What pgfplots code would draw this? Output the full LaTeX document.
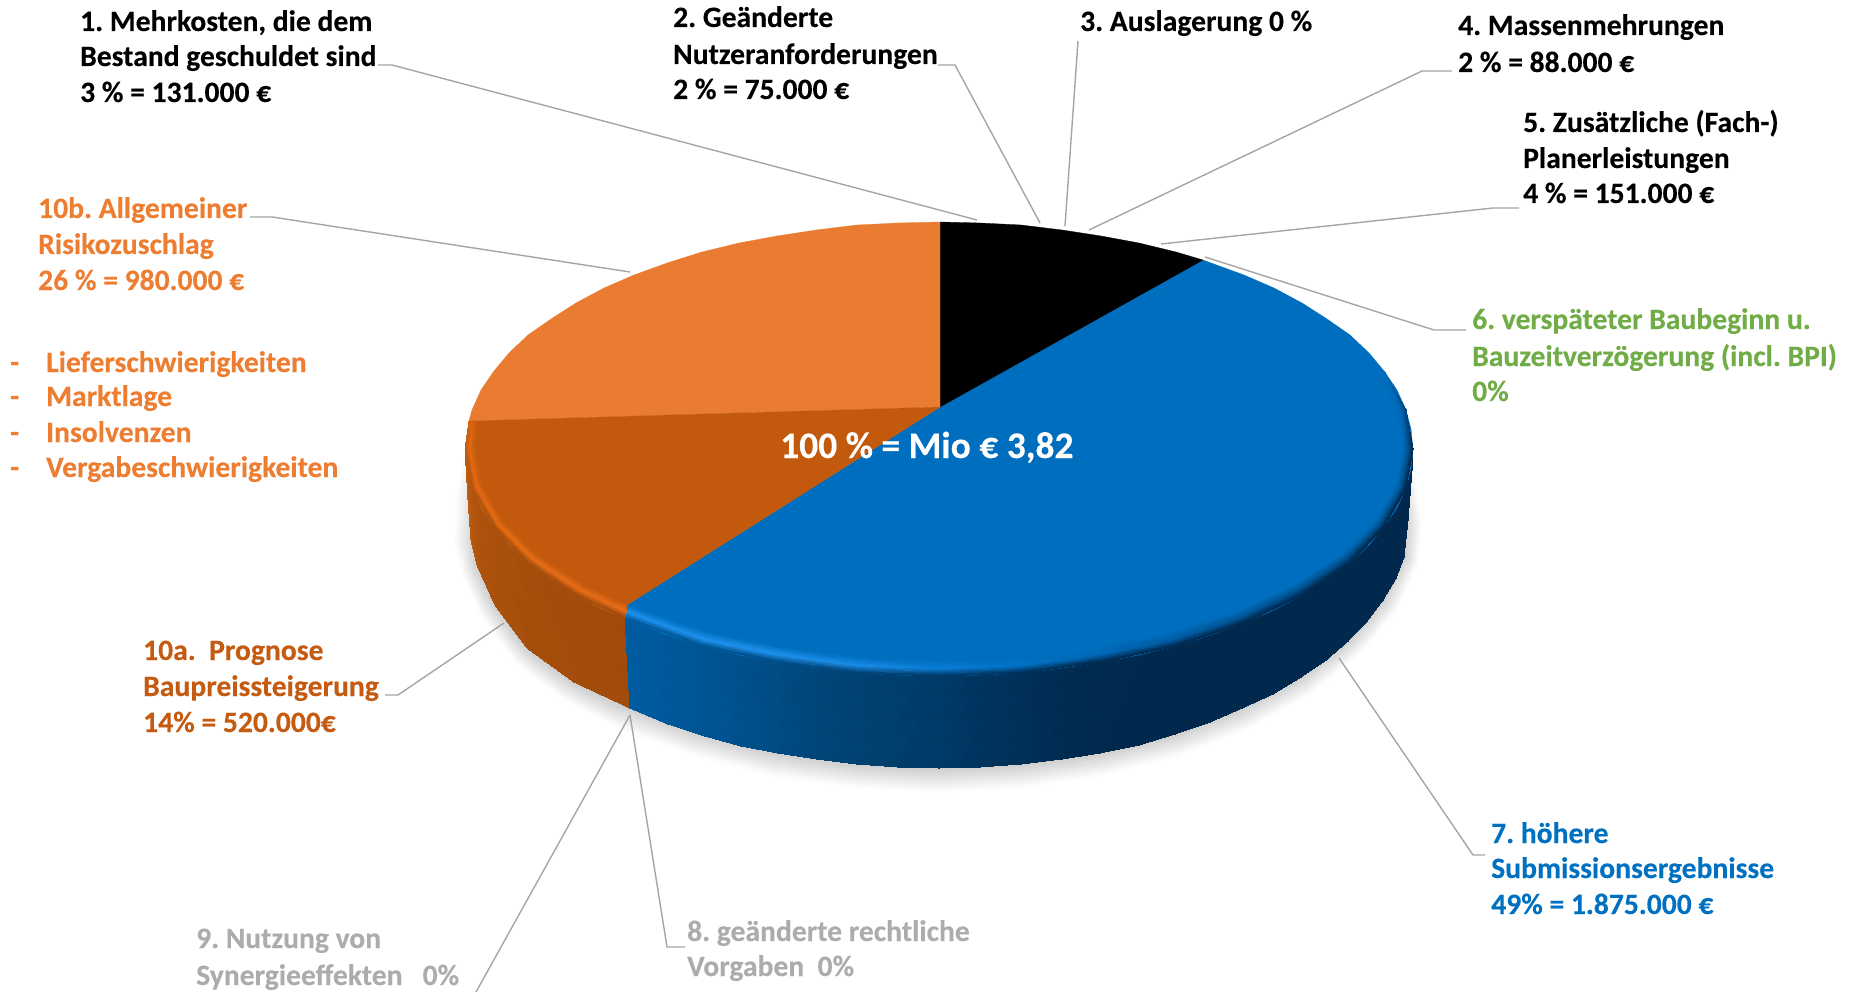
\documentclass[border=0pt]{standalone}
\usepackage{fontspec}
\setmainfont[BoldFeatures={FakeBold=0.25}]{Carlito}
\usepackage{pgfplots}
\pgfplotsset{compat=1.18}
\definecolor{cOr}{RGB}{233,124,48}
\definecolor{cDo}{RGB}{195,89,13}
\definecolor{cBl}{RGB}{0,110,190}
\definecolor{tOr}{RGB}{237,125,49}
\definecolor{tDo}{RGB}{197,90,17}
\definecolor{tBl}{RGB}{0,112,192}
\definecolor{tGr}{RGB}{112,173,71}
\definecolor{tGy}{RGB}{174,171,171}
\definecolor{lead}{RGB}{165,165,165}
\newcommand{\lab}[4]{\node[anchor=base west,inner sep=0pt,text=#3,font=\fontsize{29.6}{35}\selectfont\bfseries\frenchspacing] at (axis cs:#1,#2) {#4};}
\begin{document}
\begin{tikzpicture}
\begin{axis}[
  scale only axis,width=1851pt,height=992pt,
  xmin=0,xmax=1851,ymin=0,ymax=992,y dir=reverse,
  hide axis,no markers,clip=true]
\path (axis cs:0,0) rectangle (axis cs:1851,992);
% soft shadow
\addplot[surf,shader=interp,mesh/color input=explicit,mesh/cols=22] table[meta=c]{
x y c
1412 470 rgb255=255,255,255
1408 520 rgb255=215,215,215
1404 557 rgb255=205,205,205
1383 600 rgb255=205,205,205
1348 641 rgb255=205,205,205
1301 677 rgb255=205,205,205
1242 708 rgb255=205,205,205
1175 734 rgb255=205,205,205
1100 753 rgb255=205,205,205
1021 764 rgb255=205,205,205
939 768 rgb255=205,205,205
857 764 rgb255=205,205,205
778 753 rgb255=205,205,205
703 734 rgb255=205,205,205
630 708 rgb255=205,205,205
574 682 rgb255=205,205,205
527 648 rgb255=205,205,205
495 605 rgb255=205,205,205
477 565 rgb255=205,205,205
471 540 rgb255=215,215,215
468 500 rgb255=230,230,230
465 449 rgb255=255,255,255
1414 470 rgb255=255,255,255
1422 525 rgb255=255,255,255
1418 565 rgb255=255,255,255
1397 611 rgb255=255,255,255
1360 655 rgb255=255,255,255
1310 695 rgb255=255,255,255
1249 729 rgb255=255,255,255
1180 756 rgb255=255,255,255
1103 776 rgb255=255,255,255
1022 788 rgb255=255,255,255
939 793 rgb255=255,255,255
856 788 rgb255=255,255,255
775 777 rgb255=255,255,255
697 757 rgb255=255,255,255
621 730 rgb255=255,255,255
563 700 rgb255=255,255,255
515 663 rgb255=255,255,255
481 617 rgb255=255,255,255
461 572 rgb255=255,255,255
454 540 rgb255=255,255,255
456 495 rgb255=255,255,255
463 449 rgb255=255,255,255
};
% orange side
\addplot[surf,shader=interp,mesh/color input=explicit,mesh/cols=7] table[meta=c]{
x y c
625 618 rgb255=160,74,12
576 595 rgb255=163,76,12
528 563 rgb255=165,78,12
494 527 rgb255=170,80,13
472 488 rgb255=176,84,14
467 469 rgb255=185,90,15
465 449 rgb255=190,92,15
630 708 rgb255=160,74,12
574 682 rgb255=163,76,12
527 648 rgb255=165,78,12
495 605 rgb255=170,80,13
477 565 rgb255=176,84,14
471 540 rgb255=185,90,15
468 500 rgb255=190,92,15
};
% blue side
\addplot[surf,shader=interp,mesh/color input=explicit,mesh/cols=27] table[meta=c]{
x y c
625 618 rgb255=0,92,160
667 635 rgb255=0,88,154
702 646 rgb255=0,85,148
739 655 rgb255=0,80,140
777 662 rgb255=0,76,133
817 668 rgb255=0,70,122
857 673 rgb255=0,66,115
898 675 rgb255=0,62,108
939 676 rgb255=0,58,104
980 675 rgb255=0,52,95
1021 673 rgb255=0,48,88
1062 668 rgb255=0,44,82
1101 662 rgb255=0,42,78
1139 655 rgb255=0,41,77
1176 646 rgb255=0,41,77
1211 635 rgb255=0,41,77
1244 623 rgb255=0,41,77
1274 610 rgb255=0,41,77
1302 595 rgb255=0,41,77
1327 579 rgb255=0,41,77
1350 563 rgb255=0,41,77
1369 545 rgb255=0,41,77
1384 527 rgb255=0,41,77
1397 508 rgb255=0,41,77
1406 488 rgb255=0,41,77
1411 469 rgb255=0,41,77
1413 449 rgb255=0,41,77
630 708 rgb255=0,92,160
668 724 rgb255=0,88,154
705 736 rgb255=0,85,148
741 746 rgb255=0,80,140
778 753 rgb255=0,76,133
817 759 rgb255=0,70,122
857 764 rgb255=0,66,115
898 767 rgb255=0,62,108
939 768 rgb255=0,58,104
980 767 rgb255=0,52,95
1021 764 rgb255=0,48,88
1062 759 rgb255=0,44,82
1100 753 rgb255=0,42,78
1139 745 rgb255=0,41,77
1175 734 rgb255=0,41,77
1210 722 rgb255=0,41,77
1242 708 rgb255=0,41,77
1273 694 rgb255=0,41,77
1301 677 rgb255=0,41,77
1326 660 rgb255=0,41,77
1348 641 rgb255=0,41,77
1367 621 rgb255=0,41,77
1383 600 rgb255=0,41,77
1396 578 rgb255=0,41,77
1404 557 rgb255=0,41,77
1408 520 rgb255=0,41,77
1412 470 rgb255=0,41,77
};
% top surface
\addplot[fill=cBl,draw=cBl,line width=.3pt] coordinates {(940,407)(1203,260)(1211,263)(1244,275)(1274,288)(1302,303)(1327,319)(1350,335)(1369,353)(1384,371)(1397,390)(1406,410)(1411,429)(1413,449)(1411,469)(1406,488)(1397,508)(1384,527)(1369,545)(1350,563)(1327,579)(1302,595)(1274,610)(1244,623)(1211,635)(1176,646)(1139,655)(1101,662)(1062,668)(1021,673)(980,675)(939,676)(898,675)(857,673)(817,668)(777,662)(739,655)(702,646)(667,635)(625,618)(627,605)} -- cycle;
\addplot[fill=black,draw=black,line width=.3pt] coordinates {(940,407)(940,222)(980,223)(1021,225)(1062,230)(1101,236)(1139,243)(1176,252)(1203,260)} -- cycle;
\addplot[fill=cOr,draw=cOr,line width=.3pt] coordinates {(940,407)(940,222)(898,223)(857,225)(816,230)(777,236)(739,243)(702,252)(667,263)(634,275)(604,288)(576,303)(551,319)(528,335)(509,353)(494,371)(481,390)(472,410)(469,421)} -- cycle;
\addplot[fill=cDo,draw=cDo,line width=.3pt] coordinates {(940,407)(469,421)(465,449)(467,469)(472,488)(481,508)(494,527)(509,545)(528,563)(551,579)(576,595)(604,610)(625,618)(627,605)} -- cycle;
% front bevel, blue
\addplot[surf,shader=interp,mesh/color input=explicit,mesh/cols=16] table[meta=c]{
x y c
1375 377 rgb255=0,110,190
1396 413 rgb255=0,110,190
1403 449 rgb255=0,110,190
1396 485 rgb255=0,110,190
1375 521 rgb255=0,110,190
1341 555 rgb255=0,110,190
1294 585 rgb255=0,110,190
1238 611 rgb255=0,110,190
1171 632 rgb255=0,110,190
1098 647 rgb255=0,110,190
1019 657 rgb255=0,110,190
939 660 rgb255=0,110,190
859 657 rgb255=0,110,190
780 647 rgb255=0,110,190
707 632 rgb255=0,110,190
627 605 rgb255=0,110,190
1380 373 rgb255=0,110,190
1402 411 rgb255=0,100,178
1409 449 rgb255=0,82,145
1402 487 rgb255=0,82,145
1380 525 rgb255=0,82,145
1346 559 rgb255=0,82,145
1299 590 rgb255=0,82,145
1241 618 rgb255=0,85,150
1174 640 rgb255=0,92,165
1100 655 rgb255=0,105,185
1020 666 rgb255=0,115,200
939 669 rgb255=10,125,215
858 666 rgb255=25,140,230
778 655 rgb255=30,145,235
704 640 rgb255=30,145,238
626 612 rgb255=30,145,238
1384 371 rgb255=0,110,190
1406 410 rgb255=0,70,125
1413 449 rgb255=0,41,77
1406 488 rgb255=0,41,77
1384 527 rgb255=0,41,77
1350 563 rgb255=0,41,77
1302 595 rgb255=0,41,77
1244 623 rgb255=0,41,77
1176 646 rgb255=0,41,77
1101 662 rgb255=0,42,78
1021 673 rgb255=0,48,88
939 676 rgb255=0,58,104
857 673 rgb255=0,66,115
777 662 rgb255=0,76,133
702 646 rgb255=0,85,148
625 618 rgb255=0,92,160
};
% front bevel, orange
\addplot[surf,shader=interp,mesh/color input=explicit,mesh/cols=7] table[meta=c]{
x y c
627 605 rgb255=195,89,13
584 585 rgb255=195,89,13
537 555 rgb255=195,89,13
503 521 rgb255=195,89,13
482 485 rgb255=195,89,13
475 449 rgb255=195,89,13
477 421 rgb255=195,89,13
626 612 rgb255=232,110,22
579 590 rgb255=232,110,22
532 559 rgb255=232,110,22
498 525 rgb255=230,108,20
476 487 rgb255=228,105,18
469 449 rgb255=228,105,18
472 421 rgb255=220,100,18
625 618 rgb255=160,74,12
576 595 rgb255=163,76,12
528 563 rgb255=165,78,12
494 527 rgb255=170,80,13
472 488 rgb255=176,84,14
465 449 rgb255=190,92,15
469 421 rgb255=215,100,20
};
% leader lines
\addplot[lead,line width=1.4pt] coordinates {(378,65)(392,65)(977,220)};
\addplot[lead,line width=1.4pt] coordinates {(938,65)(955,65)(1040,223)};
\addplot[lead,line width=1.4pt] coordinates {(1078,41)(1065,226)};
\addplot[lead,line width=1.4pt] coordinates {(1452,71)(1422,71)(1089,230)};
\addplot[lead,line width=1.4pt] coordinates {(1519,208)(1493,208)(1161,244)};
\addplot[lead,line width=1.4pt] coordinates {(1466,330)(1434,330)(1205,257)};
\addplot[lead,line width=1.4pt] coordinates {(1485,855)(1473,855)(1339,658)};
\addplot[lead,line width=1.4pt] coordinates {(685,947)(667,947)(630,715)};
\addplot[lead,line width=1.4pt] coordinates {(630,715)(476,992)};
\addplot[lead,line width=1.4pt] coordinates {(385,695)(398,695)(504,623)};
\addplot[lead,line width=1.4pt] coordinates {(250,217)(272,217)(630,272)};
% labels
\lab{80}{31}{black}{1. Mehrkosten, die dem}
\lab{80}{66}{black}{Bestand geschuldet sind}
\lab{80}{102}{black}{3 \% = 131.000 €}
\lab{673}{27}{black}{2. Geänderte}
\lab{673}{64}{black}{Nutzeranforderungen}
\lab{673}{99}{black}{2 \% = 75.000 €}
\lab{1080}{31}{black}{3. Auslagerung 0 \%}
\lab{1458}{35}{black}{4. Massenmehrungen}
\lab{1458}{72}{black}{2 \% = 88.000 €}
\lab{1523}{132}{black}{5. Zusätzliche (Fach-)}
\lab{1523}{168}{black}{Planerleistungen}
\lab{1523}{203}{black}{4 \% = 151.000 €}
\lab{1472}{329}{tGr}{6. verspäteter Baubeginn u.}
\lab{1472}{366}{tGr}{Bauzeitverzögerung (incl. BPI)}
\lab{1472}{401}{tGr}{0\%}
\lab{1491}{843}{tBl}{7. höhere}
\lab{1491}{878}{tBl}{Submissionsergebnisse}
\lab{1491}{914}{tBl}{49\% = 1.875.000 €}
\lab{687}{941}{tGy}{8. geänderte rechtliche}
\lab{687}{976}{tGy}{Vorgaben\ \ 0\%}
\lab{196}{948}{tGy}{9. Nutzung von}
\lab{196}{985}{tGy}{Synergieeffekten\ \ \ 0\%}
\lab{143}{660}{tDo}{10a.\ \ Prognose}
\lab{143}{696}{tDo}{Baupreissteigerung}
\lab{143}{732}{tDo}{14\% = 520.000€}
\lab{38}{218}{tOr}{10b. Allgemeiner}
\lab{38}{254}{tOr}{Risikozuschlag}
\lab{38}{290}{tOr}{26 \% = 980.000 €}
\lab{10}{372}{tOr}{-}
\lab{46}{372}{tOr}{Lieferschwierigkeiten}
\lab{10}{406}{tOr}{-}
\lab{46}{406}{tOr}{Marktlage}
\lab{10}{442}{tOr}{-}
\lab{46}{442}{tOr}{Insolvenzen}
\lab{10}{477}{tOr}{-}
\lab{46}{477}{tOr}{Vergabeschwierigkeiten}
\node[anchor=base west,inner sep=0pt,text=white,font=\fontsize{37.5}{44}\selectfont\bfseries\frenchspacing] at (axis cs:780,458) {100 \% = Mio € 3,82};
\end{axis}
\end{tikzpicture}
\end{document}
